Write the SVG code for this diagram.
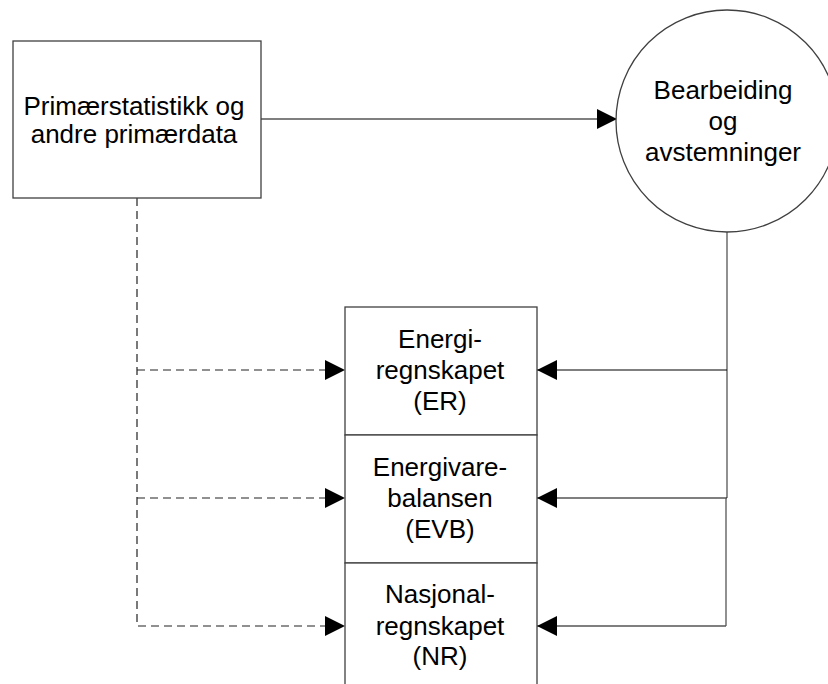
<svg xmlns="http://www.w3.org/2000/svg" width="828" height="684" viewBox="0 0 828 684">
<style>
.box{fill:#fff;stroke:#404040;stroke-width:1.3}
.t{font-family:"Liberation Sans",Arial,sans-serif;font-size:26px;fill:#000;text-anchor:middle}
.c{fill:none;stroke:#000;stroke-width:1.2}
.g{fill:none;stroke:#555;stroke-width:1.3}
.d{fill:none;stroke:#222;stroke-width:1.2;stroke-dasharray:8 5}
</style>
<defs>
<marker id="ah" viewBox="0 0 20 20" refX="20" refY="10" markerWidth="20" markerHeight="20" markerUnits="userSpaceOnUse" orient="auto">
<path d="M0,0 L20,10 L0,20 Z" fill="#000"/>
</marker>
</defs>
<rect width="828" height="684" fill="#fff"/>
<g id="connectors">
<path class="c" d="M261,119 H617" marker-end="url(#ah)"/>
<path class="g" d="M727,232 V498"/>
<path class="c" d="M727,370 H537" marker-end="url(#ah)"/>
<path class="c" d="M727,498 H537" marker-end="url(#ah)"/>
<path class="g" d="M726,498 V626"/>
<path class="g" d="M726,626 H537" marker-end="url(#ah)"/>
<path class="d" d="M137,198 V626 H345" marker-end="url(#ah)"/>
<path class="d" d="M137,370 H345" marker-end="url(#ah)"/>
<path class="d" d="M137,498 H345" marker-end="url(#ah)"/>
</g>
<g id="primar">
<rect class="box" x="13" y="41" width="248" height="157"/>
<text class="t" x="134" y="115">Primærstatistikk og</text>
<text class="t" x="134" y="143">andre primærdata</text>
</g>
<g id="bearbeiding">
<circle class="box" cx="727" cy="121" r="111"/>
<text class="t" x="723" y="99">Bearbeiding</text>
<text class="t" x="723" y="130">og</text>
<text class="t" x="723" y="161">avstemninger</text>
</g>
<g id="er">
<rect class="box" x="345" y="307" width="192" height="128"/>
<text class="t" x="440" y="348">Energi-</text>
<text class="t" x="440" y="379">regnskapet</text>
<text class="t" x="440" y="410">(ER)</text>
</g>
<g id="evb">
<rect class="box" x="345" y="435" width="192" height="128"/>
<text class="t" x="440" y="476">Energivare-</text>
<text class="t" x="440" y="507">balansen</text>
<text class="t" x="440" y="538">(EVB)</text>
</g>
<g id="nr">
<rect class="box" x="345" y="563" width="192" height="130"/>
<text class="t" x="440" y="603">Nasjonal-</text>
<text class="t" x="440" y="635">regnskapet</text>
<text class="t" x="440" y="665">(NR)</text>
</g>
</svg>
